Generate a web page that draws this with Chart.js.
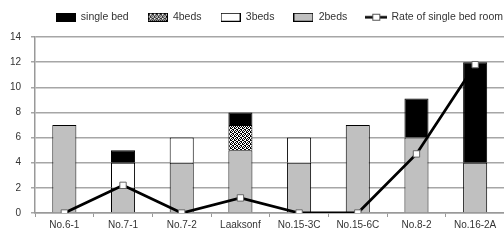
<!DOCTYPE html>
<html>
<head>
<meta charset="utf-8">
<script src="https://cdn.jsdelivr.net/npm/chart.js@4"></script>
<style>
  html, body { margin: 0; padding: 0; background: #fff; overflow: hidden; }
  .wrap { width: 510px; height: 242px; }
</style>
</head>
<body>
<div class="wrap"><canvas class="rooms"></canvas></div>
<script>
// data
const labels = ['No.6-1', 'No.7-1', 'No.7-2', 'Laaksonf', 'No.15-3C', 'No.15-6C', 'No.8-2', 'No.16-2A'];
const singleBed = [0, 1, 0, 1, 0, 0, 3.1, 8];
const fourBeds = [0, 0, 0, 2, 0, 0, 0, 0];
const threeBeds = [0, 2, 2, 0, 2, 0, 0, 0];
const twoBeds = [7, 2, 4, 5, 4, 7, 6, 4];
const rateSingle = [0, 2.2, 0, 1.2, 0, 0, 4.7, 11.8];
const yTicks = [0, 2, 4, 6, 8, 10, 12, 14];

// speckle pattern for 4beds
function speckle() {
  const p = document.createElement('canvas');
  p.width = 4; p.height = 4;
  const g = p.getContext('2d');
  g.fillStyle = '#000';
  g.fillRect(0, 0, 4, 4);
  g.fillStyle = '#fff';
  [[0,0],[1,0],[2,1],[3,1],[0,2],[1,3],[3,3],[2,2]].forEach(d => g.fillRect(d[0], d[1], 1, 1));
  return g.createPattern(p, 'repeat');
}
const pat = speckle();

// legend symbols
function boxIcon(fill) {
  const c = document.createElement('canvas');
  c.width = 20; c.height = 9;
  const g = c.getContext('2d');
  g.fillStyle = fill;
  g.fillRect(0, 0, 20, 9);
  g.strokeStyle = '#000';
  g.lineWidth = 1;
  g.strokeRect(0.5, 0.5, 19, 8);
  return c;
}
function lineIcon() {
  const c = document.createElement('canvas');
  c.width = 22; c.height = 9;
  const g = c.getContext('2d');
  g.strokeStyle = '#000';
  g.lineWidth = 2.5;
  g.beginPath(); g.moveTo(0, 4.5); g.lineTo(22, 4.5); g.stroke();
  g.fillStyle = '#fff';
  g.fillRect(7, 1, 8, 7);
  g.strokeStyle = '#555';
  g.lineWidth = 1;
  g.strokeRect(7.5, 1.5, 7, 6);
  return c;
}
const icons = [boxIcon('#000'), boxIcon(pat), boxIcon('#fff'), boxIcon('#c0c0c0'), lineIcon()];

const tickFont = { family: 'Liberation Sans', size: 10 };

// legend takes 37px on top, items nudged up and to the right
const fixLegend = {
  id: 'fixLegend',
  beforeInit(chart) {
    const f = chart.legend.fit;
    chart.legend.fit = function () {
      f.bind(chart.legend)();
      this.height = 37;
    };
  },
  afterLayout(chart) {
    const lg = chart.legend;
    lg.top -= 7;
    lg.left += 15;
    lg.right += 15;
  }
};

const ct = document.querySelector('.rooms');
new Chart(ct, {
  data: {
    labels: labels,
    datasets: [
      { type: 'bar', label: 'single bed', data: singleBed, backgroundColor: '#000', borderColor: '#000', borderWidth: 1, order: 4 },
      { type: 'bar', label: '4beds', data: fourBeds, backgroundColor: pat, borderColor: '#000', borderWidth: 1, order: 3 },
      { type: 'bar', label: '3beds', data: threeBeds, backgroundColor: '#fff', borderColor: '#000', borderWidth: 1, order: 2 },
      { type: 'bar', label: '2beds', data: twoBeds, backgroundColor: '#c0c0c0', borderColor: '#000', borderWidth: 1, order: 1 },
      {
        type: 'line', label: 'Rate of single bed room', data: rateSingle, stack: 'rate',
        borderColor: '#000', borderWidth: 2.8, pointStyle: 'rect', pointRadius: 4.5,
        pointBackgroundColor: '#fff', pointBorderColor: '#666', pointBorderWidth: 1, order: 0
      }
    ]
  },
  options: {
    responsive: true,
    maintainAspectRatio: false,
    animation: false,
    layout: { padding: { right: 3 } },
    datasets: { bar: { categoryPercentage: 1, barPercentage: 0.41 } },
    scales: {
      x: {
        stacked: true,
        grid: { offset: true, drawOnChartArea: false, tickLength: 4, color: '#999', lineWidth: 1 },
        border: { color: '#999', width: 1.5 },
        ticks: { font: tickFont, color: '#333', padding: 2, maxRotation: 0, autoSkip: false },
        afterFit: s => { s.height = 29; }
      },
      y: {
        stacked: true,
        min: 0, max: 14,
        afterBuildTicks: s => { s.ticks = yTicks.map(v => ({ value: v })); },
        grid: { color: '#a6a6a6', lineWidth: 1.5, tickLength: 4 },
        border: { color: '#999', width: 1.5 },
        ticks: { font: tickFont, color: '#333', padding: 10 },
        afterFit: s => { s.width = 35; }
      }
    },
    plugins: {
      tooltip: { enabled: false },
      legend: {
        position: 'top',
        align: 'end',
        padding: { top: 0 },
        labels: {
          usePointStyle: true,
          pointStyleWidth: 20,
          boxHeight: 9,
          padding: 19,
          color: '#333',
          font: { family: 'Liberation Sans', size: 10.5 },
          sort: (a, b) => a.datasetIndex - b.datasetIndex,
          generateLabels: chart => chart.data.datasets.map((d, i) => ({
            text: d.label,
            pointStyle: icons[i],
            datasetIndex: i,
            hidden: false,
            fontColor: '#333',
            lineWidth: 0
          }))
        }
      }
    }
  },
  plugins: [fixLegend]
});
</script>
</body>
</html>
